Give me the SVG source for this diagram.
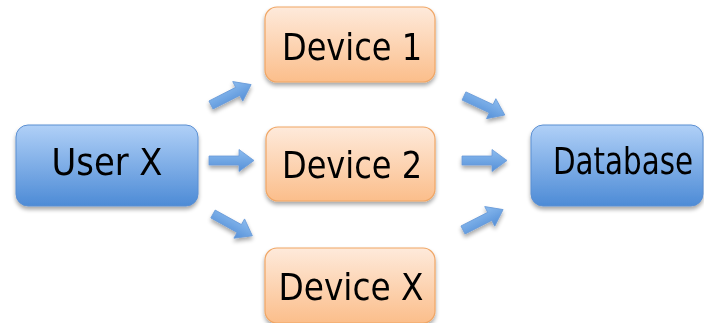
<svg xmlns="http://www.w3.org/2000/svg" xmlns:xlink="http://www.w3.org/1999/xlink" width="704" height="323" viewBox="0 0 704 323">
  <defs>
    <linearGradient id="blueFill" x1="0" y1="0" x2="0" y2="1">
      <stop offset="0" stop-color="#b0d0f7"/>
      <stop offset="1" stop-color="#4d8bd6"/>
    </linearGradient>
    <linearGradient id="orangeFill" x1="0" y1="0" x2="0" y2="1">
      <stop offset="0" stop-color="#feeadb"/>
      <stop offset="1" stop-color="#fbbe8b"/>
    </linearGradient>
    <linearGradient id="arrowFill" x1="0" y1="0" x2="0" y2="1">
      <stop offset="0" stop-color="#8cbcef"/>
      <stop offset="1" stop-color="#5590d8"/>
    </linearGradient>
    <filter id="shadow" x="-10%" y="-10%" width="120%" height="130%">
      <feGaussianBlur in="SourceAlpha" stdDeviation="2"/>
      <feOffset dy="3" result="b"/>
      <feComponentTransfer><feFuncA type="linear" slope="0.35"/></feComponentTransfer>
      <feMerge><feMergeNode/><feMergeNode in="SourceGraphic"/></feMerge>
    </filter>
    <!-- block arrow pointing right, origin at tail centre -->
    <path id="arrow" d="M0,-4.5 H30 V-11 L45,0 L30,11 V4.5 H0 Z"/>
  </defs>
  <style>
    .blue { fill: url(#blueFill); stroke: #5b8fd2; stroke-width: 1; }
    .orange { fill: url(#orangeFill); stroke: #f0a665; stroke-width: 1.2; }
    .label { font-family: "DejaVu Sans Condensed", "DejaVu Sans", "Liberation Sans", sans-serif; font-size: 38px; fill: #000; text-anchor: middle; }
    .arrows use { fill: url(#arrowFill); stroke: #6a9bd9; stroke-width: 0.8; }
  </style>
  <rect width="704" height="323" fill="#ffffff"/>

  <g id="connectors" class="arrows" filter="url(#shadow)">
    <use xlink:href="#arrow" transform="translate(211,105) rotate(-27)"/>
    <use xlink:href="#arrow" transform="translate(209,160.5)"/>
    <use xlink:href="#arrow" transform="translate(213,214) rotate(29)"/>
    <use xlink:href="#arrow" transform="translate(464,96) rotate(25)"/>
    <use xlink:href="#arrow" transform="translate(462,160.5)"/>
    <use xlink:href="#arrow" transform="translate(463,230) rotate(-27)"/>
  </g>

  <g id="user-x" filter="url(#shadow)">
    <rect class="blue" x="16" y="125" width="182" height="81" rx="12"/>
    <text class="label" x="107" y="175" textLength="111" lengthAdjust="spacingAndGlyphs">User X</text>
  </g>

  <g id="device-1" filter="url(#shadow)">
    <rect class="orange" x="265" y="7" width="170" height="75" rx="12"/>
    <text class="label" x="352" y="60" textLength="140" lengthAdjust="spacingAndGlyphs">Device 1</text>
  </g>

  <g id="device-2" filter="url(#shadow)">
    <rect class="orange" x="266" y="127" width="169" height="74" rx="12"/>
    <text class="label" x="352" y="178" textLength="140" lengthAdjust="spacingAndGlyphs">Device 2</text>
  </g>

  <g id="device-x" filter="url(#shadow)">
    <rect class="orange" x="265" y="248" width="170" height="75" rx="12"/>
    <text class="label" x="351" y="300" textLength="145" lengthAdjust="spacingAndGlyphs">Device X</text>
  </g>

  <g id="database" filter="url(#shadow)">
    <rect class="blue" x="531" y="125" width="172" height="81" rx="12"/>
    <text class="label" x="623" y="174" textLength="140" lengthAdjust="spacingAndGlyphs">Database</text>
  </g>
</svg>
